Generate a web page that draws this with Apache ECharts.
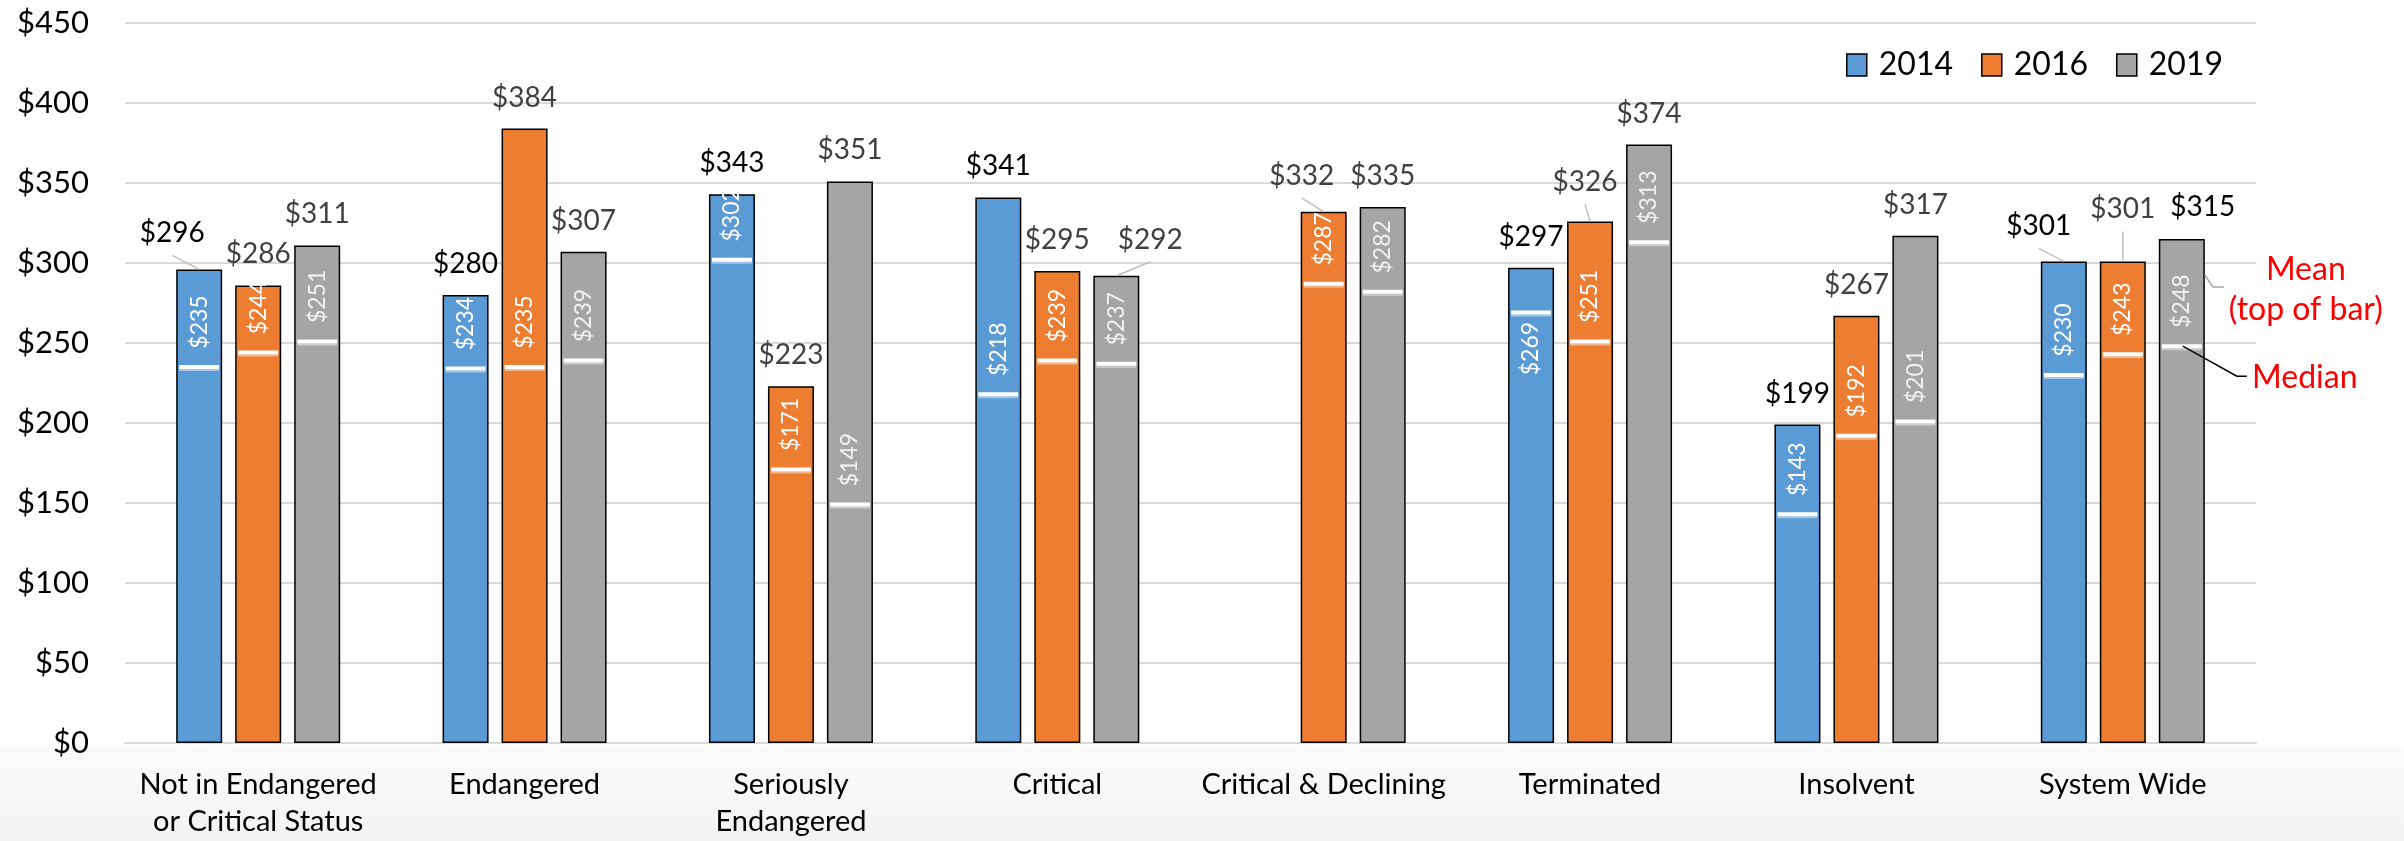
<!DOCTYPE html>
<html>
<head>
<meta charset="utf-8">
<script src="https://cdn.jsdelivr.net/npm/echarts@6/dist/echarts.min.js"></script>
<style>
html,body{margin:0;padding:0;background:#fff;}
#chart{width:2404px;height:841px;}
</style>
</head>
<body>
<div id="chart"></div>
<script>
// ---------- data ----------
const categories = [
  'Not in Endangered\nor Critical Status', 'Endangered', 'Seriously\nEndangered', 'Critical',
  'Critical & Declining', 'Terminated', 'Insolvent', 'System Wide'
];
const years = ['2014', '2016', '2019'];
const mean2014 = [296, 280, 343, 341, null, 297, 199, 301];
const mean2016 = [286, 384, 223, 295, 332, 326, 267, 301];
const mean2019 = [311, 307, 351, 292, 335, 374, 317, 315];
const median2014 = [235, 234, 302, 218, null, 269, 143, 230];
const median2016 = [244, 235, 171, 239, 287, 251, 192, 243];
const median2019 = [251, 239, 149, 237, 282, 313, 201, 248];
const yMin = 0, yMax = 450, yStep = 50;

// ---------- styling ----------
const FONT = 'Lato, "Noto Sans", sans-serif';
const colors = ['#5B9BD5', '#ED7D31', '#A5A5A5'];
const BAR_W = 46, SLOT = 59;
// label nudges for mean labels (series-category): [dx, rise, leaderLine]
const labelNudges = {
  '0-0': [-27, 36, true],
  '2-3': [34, 36, true],
  '1-4': [-22, 36, true],
  '1-5': [-5, 39, true],
  '0-7': [-25, 35, true],
  '1-7': [0, 52, true],
  '2-7': [21, 32, false]
};
const meanLabelColor = (k, i) => (k === 0 || (k === 2 && i === 7)) ? '#000000' : '#404040';

const means = [mean2014, mean2016, mean2019];
const medians = [median2014, median2016, median2019];

const overlay = [];
for (let k = 0; k < 3; k++) {
  for (let i = 0; i < categories.length; i++) {
    if (means[k][i] != null) overlay.push([i, medians[k][i], means[k][i], k]);
  }
}

function renderItem(params, api) {
  const i = api.value(0), med = api.value(1), mean = api.value(2), k = api.value(3);
  const base = api.coord([i, 0]);
  const x = base[0] + (k - 1) * SLOT;
  const yMed = api.coord([i, med])[1];
  const yMean = api.coord([i, mean])[1];
  const ch = [];
  // median marker
  ch.push({type: 'rect', shape: {x: x - 20, y: yMed - 2, width: 40, height: 4}, style: {fill: '#ffffff'}});
  ch.push({type: 'rect', shape: {x: x - 20, y: yMed + 2, width: 40, height: 2}, style: {fill: 'rgba(255,255,255,0.45)'}});
  const above = (yMed - yMean) > 55;
  const ly = above ? yMed - 45 : yMed + 36;
  ch.push({
    type: 'text', x: x, y: ly, rotation: Math.PI / 2,
    style: {text: '$' + med, x: 0, y: 0, align: 'center', verticalAlign: 'middle',
      fontSize: 23, fontFamily: FONT, fill: k === 2 ? '#f2f2f2' : '#ffffff'}
  });
  // mean label
  const nudge = labelNudges[k + '-' + i] || [0, 31, false];
  const mx = x + nudge[0], my = yMean - nudge[1];
  ch.push({
    type: 'text', x: mx, y: my,
    style: {text: '$' + mean, x: 0, y: 0, align: 'center', verticalAlign: 'middle',
      fontSize: 28, fontFamily: FONT, fill: meanLabelColor(k, i)}
  });
  if (nudge[2]) {
    ch.push({type: 'line', shape: {x1: mx, y1: my + 22, x2: x, y2: yMean},
      style: {stroke: '#BFBFBF', lineWidth: 1.5}});
  }
  // annotation on the last bar
  if (i === categories.length - 1 && k === 2) {
    ch.push({type: 'polyline', shape: {points: [[x + 23, yMean + 36], [x + 31, yMean + 48], [x + 42, yMean + 48]]},
      style: {stroke: '#A6A6A6', lineWidth: 1.5, fill: null}});
    ch.push({type: 'text', x: x + 124, y: yMean + 31,
      style: {text: 'Mean', x: 0, y: 0, align: 'center', verticalAlign: 'middle', fontSize: 32, fontFamily: FONT, fill: '#FF0000'}});
    ch.push({type: 'text', x: x + 124, y: yMean + 71,
      style: {text: '(top of bar)', x: 0, y: 0, align: 'center', verticalAlign: 'middle', fontSize: 32, fontFamily: FONT, fill: '#FF0000'}});
    ch.push({type: 'polyline', shape: {points: [[x + 1, yMed], [x + 55, yMed + 30], [x + 65, yMed + 30]]},
      style: {stroke: '#000000', lineWidth: 1.5, fill: null}});
    ch.push({type: 'text', x: x + 123, y: yMed + 31,
      style: {text: 'Median', x: 0, y: 0, align: 'center', verticalAlign: 'middle', fontSize: 32, fontFamily: FONT, fill: '#FF0000'}});
  }
  return {type: 'group', children: ch};
}

const chart = echarts.init(document.getElementById('chart'), null, {renderer: 'canvas'});
const barSeries = years.map((y, k) => ({
  name: y, type: 'bar', data: means[k],
  barWidth: BAR_W, barGap: ((SLOT - BAR_W) / BAR_W * 100).toFixed(2) + '%',
  itemStyle: {color: colors[k], borderColor: '#000000', borderWidth: 1.5},
  emphasis: {disabled: true}, z: 2
}));

chart.setOption({
  animation: false,
  backgroundColor: '#ffffff',
  graphic: [{
    type: 'rect', left: 0, top: 746, z: -10, silent: true,
    shape: {width: 2404, height: 95},
    style: {fill: {type: 'linear', x: 0, y: 0, x2: 0, y2: 1,
      colorStops: [{offset: 0, color: '#fbfbfb'}, {offset: 1, color: '#f3f3f3'}]}}
  }],
  grid: {left: 125, right: 148, top: 23, bottom: 98, containLabel: false},
  legend: {
    data: years, right: 176, top: 44, icon: 'rect', itemWidth: 20, itemHeight: 22, itemGap: 28,
    itemStyle: {borderColor: '#000', borderWidth: 1.5},
    textStyle: {fontSize: 32, fontFamily: FONT, color: '#000', padding: [0, 0, 0, 7]}
  },
  xAxis: {
    type: 'category', data: categories,
    axisTick: {show: false},
    axisLine: {lineStyle: {color: '#D9D9D9', width: 2}},
    axisLabel: {fontSize: 29, fontFamily: FONT, color: '#000', lineHeight: 37, margin: 23, interval: 0}
  },
  yAxis: {
    type: 'value', min: yMin, max: yMax, interval: yStep,
    axisLine: {show: false}, axisTick: {show: false},
    splitLine: {lineStyle: {color: '#D9D9D9', width: 2}},
    axisLabel: {fontSize: 31, fontFamily: FONT, color: '#000', margin: 36, formatter: v => '$' + v}
  },
  series: barSeries.concat([{
    type: 'custom', name: 'overlay', data: overlay, renderItem: renderItem,
    clip: false, z: 5, silent: true,
    encode: {x: 0, y: 1}
  }])
});
</script>
</body>
</html>
